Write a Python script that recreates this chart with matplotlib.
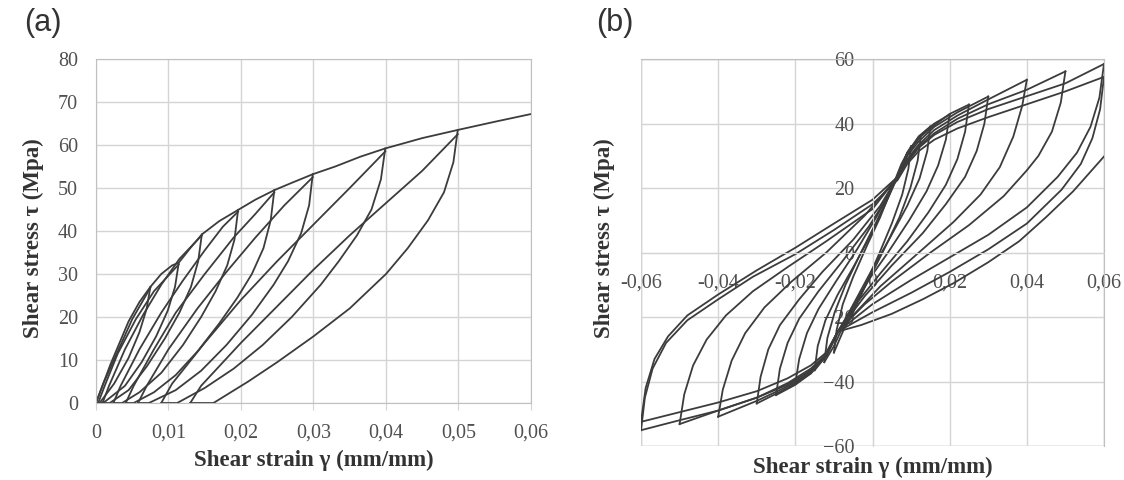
import matplotlib.pyplot as plt
from matplotlib.patches import Rectangle

# ---------------- panel (a): monotonic envelope + unload/reload loops ----------------
a_env_x = [0, 0.001, 0.002, 0.003, 0.0045, 0.006, 0.0075, 0.009, 0.0105, 0.0114, 0.013, 0.0146,
           0.017, 0.0196, 0.022, 0.0246, 0.027, 0.0299, 0.033, 0.0365, 0.0399, 0.045, 0.0499, 0.055, 0.06]
a_env_y = [0, 4.5, 9, 13, 19, 23.5, 27, 30, 32, 32.6, 36, 39.2,
           42.3, 44.9, 47.3, 49.5, 51.2, 53.2, 55, 57.3, 59.2, 61.6, 63.5, 65.4, 67.2]

# reloading branches (residual strain -> peak)
a_up_x = [
    [0, 0.001, 0.003, 0.005, 0.0075],
    [0.0003, 0.0012, 0.003, 0.0055, 0.008, 0.0114],
    [0.0009, 0.0018, 0.004, 0.0065, 0.009, 0.0115, 0.0146],
    [0.0024, 0.0034, 0.006, 0.009, 0.012, 0.015, 0.0175, 0.0196],
    [0.0041, 0.0052, 0.008, 0.011, 0.015, 0.019, 0.022, 0.0246],
    [0.0058, 0.007, 0.01, 0.014, 0.018, 0.022, 0.026, 0.0299],
    [0.009, 0.0105, 0.015, 0.02, 0.025, 0.03, 0.035, 0.0399],
    [0.013, 0.0145, 0.02, 0.025, 0.03, 0.035, 0.04, 0.045, 0.0499],
]
a_up_y = [
    [0, 4.5, 12, 19.5, 26.8],
    [0, 4, 11.5, 19.5, 26, 32.2],
    [0, 4, 12.5, 20.5, 27.5, 33.5, 39],
    [0, 4, 12.5, 21, 28.5, 35.5, 41, 44.5],
    [0, 4, 12.5, 21, 30, 38.5, 44, 49],
    [0, 4, 12.5, 22, 30.5, 38.5, 46, 52.5],
    [0, 4.5, 14, 24, 33, 41.5, 50, 58.5],
    [0, 4, 14, 22.5, 31, 39, 46.5, 54, 62.5],
]

# unloading branches (peak -> zero stress), then flat back to reload start
a_down_x = [
    [0.0075, 0.007, 0.006, 0.0045, 0.0025, 0.0005, 0],
    [0.0114, 0.0109, 0.0099, 0.0083, 0.0063, 0.004, 0.001, 0.0003],
    [0.0146, 0.0141, 0.0131, 0.0115, 0.0095, 0.007, 0.0045, 0.0019, 0.0009],
    [0.0196, 0.0191, 0.0181, 0.0165, 0.0145, 0.012, 0.009, 0.006, 0.0036, 0.0024],
    [0.0246, 0.0241, 0.0231, 0.0215, 0.0195, 0.017, 0.014, 0.011, 0.008, 0.0052, 0.0041],
    [0.0299, 0.0294, 0.0283, 0.0265, 0.0245, 0.0215, 0.018, 0.0145, 0.011, 0.0073, 0.0058],
    [0.0399, 0.0393, 0.038, 0.036, 0.0335, 0.031, 0.027, 0.023, 0.019, 0.015, 0.0112, 0.009],
    [0.0499, 0.0493, 0.048, 0.0458, 0.043, 0.04, 0.035, 0.03, 0.025, 0.021, 0.0162, 0.013],
]
a_down_y = [
    [27, 22, 16.5, 10.5, 4.5, 0, 0],
    [32.4, 27, 21.5, 15.5, 9.5, 4, 0, 0],
    [39.2, 33, 27, 21, 15, 8.5, 3, 0, 0],
    [44.9, 38, 32, 26, 20, 13.5, 7, 2.5, 0, 0],
    [49.5, 42.5, 36, 30, 24.5, 18.5, 12, 6.5, 2.5, 0, 0],
    [53.2, 46, 39.5, 33, 27.5, 20.5, 13.5, 7.5, 3, 0, 0],
    [59.2, 52, 45, 39, 33, 27.5, 20, 13.5, 8, 3.5, 0, 0],
    [63.5, 56, 49, 42.5, 36, 30, 22, 15.5, 9.5, 5, 0, 0],
]

a_xticks = [0, 0.01, 0.02, 0.03, 0.04, 0.05, 0.06]
a_xlabels = ["0", "0,01", "0,02", "0,03", "0,04", "0,05", "0,06"]
a_yticks = [0, 10, 20, 30, 40, 50, 60, 70, 80]

# ---------------- panel (b): cyclic hysteresis loops ----------------
# loading branches: negative peak -> upper pinch -> positive peak
b_up_x = [
    [-0.06, -0.0588, -0.0565, -0.053, -0.048, -0.04, -0.03, -0.02, -0.01, 0, 0.0065, 0.009, 0.012, 0.016, 0.022, 0.03, 0.04, 0.05, 0.06],
    [-0.06, -0.059, -0.057, -0.0535, -0.048, -0.04, -0.031, -0.02, -0.01, 0, 0.0065, 0.009, 0.012, 0.016, 0.022, 0.03, 0.04, 0.05, 0.06],
    [-0.05, -0.0488, -0.0465, -0.043, -0.038, -0.031, -0.022, -0.012, 0, 0.0065, 0.009, 0.012, 0.016, 0.022, 0.03, 0.04, 0.05],
    [-0.04, -0.0388, -0.0365, -0.033, -0.028, -0.021, -0.012, -0.002, 0.0065, 0.009, 0.012, 0.016, 0.022, 0.03, 0.04],
    [-0.03, -0.029, -0.027, -0.024, -0.019, -0.013, -0.005, 0.002, 0.0065, 0.009, 0.012, 0.016, 0.022, 0.03],
    [-0.025, -0.024, -0.022, -0.019, -0.014, -0.008, -0.001, 0.0035, 0.0065, 0.009, 0.012, 0.016, 0.02, 0.025],
    [-0.02, -0.019, -0.017, -0.014, -0.0095, -0.004, 0.001, 0.0045, 0.0065, 0.009, 0.012, 0.016, 0.02],
    [-0.015, -0.0142, -0.0122, -0.009, -0.0045, 0, 0.0035, 0.0065, 0.009, 0.012, 0.015],
    [-0.0125, -0.0117, -0.0098, -0.007, -0.003, 0.001, 0.0045, 0.0065, 0.009, 0.0125],
    [-0.01, -0.0093, -0.0077, -0.005, -0.0015, 0.002, 0.005, 0.0075, 0.01],
]
b_up_y = [
    [-52.5, -42, -33, -26, -19.5, -13, -5.5, 1.5, 9, 16.4, 23.5, 28, 32.5, 36.5, 40.5, 44.5, 48.5, 52.5, 58.5],
    [-55.1, -45, -36, -28, -21, -14.5, -7.5, -0.5, 7, 15, 22.5, 27.5, 31.5, 35, 38.5, 42, 46, 50, 54.5],
    [-53.2, -44, -35, -27, -19.5, -12, -4.5, 3.5, 13.5, 23.5, 28.5, 33, 37, 41.5, 46, 50.5, 56.2],
    [-50.9, -42.5, -33.5, -25, -17, -9, 0, 11.5, 23.5, 29, 33.5, 38, 42.5, 47.5, 53.6],
    [-46.8, -38.5, -30, -22.5, -14.5, -6, 4, 14.5, 23.5, 30, 34.5, 39, 43.5, 48.4],
    [-44.2, -36, -28, -20.5, -12, -3, 8, 16.5, 23.5, 30.5, 35.5, 39.5, 43, 45.9],
    [-40.6, -33, -25, -17.5, -9, 1, 11, 19, 23.5, 30.5, 36, 40, 42.8],
    [-36.5, -29, -21, -13, -3.5, 6.5, 15.5, 23.5, 31, 36, 39.1],
    [-34, -26.5, -18.5, -10, 0, 9.5, 18.5, 24, 31, 36],
    [-31, -24, -16, -7.5, 2, 11, 20, 27.5, 33],
]
# unloading branches: positive peak -> lower pinch -> negative peak
b_down_x = [
    [0.06, 0.0588, 0.0565, 0.053, 0.048, 0.04, 0.03, 0.02, 0.01, 0, -0.009, -0.012, -0.016, -0.022, -0.03, -0.04, -0.05, -0.06],
    [0.06, 0.059, 0.057, 0.054, 0.049, 0.04, 0.03, 0.02, 0.01, 0, -0.009, -0.012, -0.016, -0.022, -0.03, -0.04, -0.05, -0.06],
    [0.05, 0.0488, 0.0465, 0.043, 0.04, 0.034, 0.025, 0.015, 0.005, -0.002, -0.009, -0.012, -0.016, -0.022, -0.03, -0.04, -0.05],
    [0.04, 0.0388, 0.0365, 0.033, 0.028, 0.021, 0.012, 0.002, -0.009, -0.012, -0.016, -0.022, -0.03, -0.04],
    [0.03, 0.029, 0.027, 0.024, 0.019, 0.013, 0.005, -0.002, -0.009, -0.012, -0.016, -0.022, -0.03],
    [0.025, 0.024, 0.022, 0.019, 0.0145, 0.009, 0.002, -0.004, -0.009, -0.012, -0.016, -0.02, -0.025],
    [0.02, 0.019, 0.017, 0.014, 0.0095, 0.004, -0.001, -0.005, -0.009, -0.012, -0.016, -0.02],
    [0.015, 0.0142, 0.0122, 0.009, 0.0045, 0, -0.0045, -0.009, -0.012, -0.015],
    [0.0125, 0.0117, 0.0098, 0.007, 0.003, -0.001, -0.0045, -0.0075, -0.01, -0.0125],
    [0.01, 0.0093, 0.0077, 0.005, 0.0015, -0.002, -0.005, -0.0075, -0.01],
]
b_down_y = [
    [58.5, 48, 39, 31, 23.5, 14, 5.5, -1.5, -8.5, -16, -24.5, -31, -35, -39, -43, -46.5, -49.5, -52.5],
    [54.5, 44.5, 35.5, 27.5, 19.5, 9, 1, -6, -12.5, -18.5, -24.5, -31.5, -36.5, -41, -45, -49, -52, -55.1],
    [56.2, 46.5, 37.5, 30, 25.5, 17.5, 8.5, 0, -9, -16, -24.5, -31.5, -36, -40.5, -45, -49, -53.2],
    [53.6, 45.5, 36, 26.5, 18, 9.5, 0, -10.5, -24.5, -32, -37, -41.5, -46, -50.9],
    [48.4, 40, 31.5, 23.5, 15, 6, -4, -13.5, -24.5, -32, -37.5, -42, -46.8],
    [45.9, 37.5, 29, 21, 12.5, 3.5, -6.5, -15.5, -24.5, -32, -37.5, -41, -44.2],
    [42.8, 35, 27, 19, 10, 0, -8.5, -16.5, -24.5, -32, -37, -40.6],
    [39.1, 31.5, 23, 14.5, 4.5, -5, -15, -25, -32, -36.5],
    [36, 28.5, 20, 11, 1, -8.5, -16.5, -22.5, -29, -34],
    [33, 26, 18, 9, -1, -10.5, -18.5, -24, -31],
]
# last (unfinished) branch
b_last_x = [-0.009, -0.003, 0.005, 0.013, 0.021, 0.03, 0.038, 0.045, 0.052, 0.06]
b_last_y = [-24.5, -22.5, -19, -14.5, -9.5, -3, 3.5, 11, 19, 29.8]

b_xticks = [-0.06, -0.04, -0.02, 0, 0.02, 0.04, 0.06]
b_xlabels = ["-0,06", "-0,04", "-0,02", "0", "0,02", "0,04", "0,06"]
b_yticks = [-60, -40, -20, 0, 20, 40, 60]

line_c = "#3c3c3c"
grid_c = "#d4d4d4"
tick_c = "#505050"
lab_c = "#333333"
serif = ["Liberation Serif", "DejaVu Serif"]
sans = ["Liberation Sans", "DejaVu Sans"]

fig = plt.figure(figsize=(11.24, 4.8), dpi=100)

# ---- (a)
ax1 = fig.add_axes([0.0854, 0.1604, 0.387, 0.7167])
ax1.plot(a_env_x, a_env_y, color=line_c, lw=1.3)
for xs, ys in zip(a_up_x, a_up_y):
    ax1.plot(xs, ys, color=line_c, lw=1.3)
for xs, ys in zip(a_down_x, a_down_y):
    ax1.plot(xs, ys, color=line_c, lw=1.3)
ax1.set_xlim(0, 0.06)
ax1.set_ylim(0, 80)
ax1.set_xticks(a_xticks)
ax1.set_xticklabels(a_xlabels)
ax1.set_yticks(a_yticks)
ax1.grid(True, color=grid_c, lw=1.0)
ax1.set_axisbelow(True)
for s in ax1.spines.values():
    s.set_color("#c0c0c0")
ax1.tick_params(axis="x", length=5, color=grid_c, pad=10, labelsize=14.5, labelcolor=tick_c)
ax1.tick_params(axis="y", length=0, pad=13, labelsize=14.5, labelcolor=tick_c)
for lab in ax1.get_xticklabels() + ax1.get_yticklabels():
    lab.set_family(serif)
ax1.set_xlabel("Shear strain γ (mm/mm)", family=serif, fontsize=16.5, fontweight="bold", color=lab_c, va="center")
ax1.xaxis.set_label_coords(0.5, -0.166)
ax1.set_ylabel("Shear stress τ (Mpa)", family=serif, fontsize=16.5, fontweight="bold", color=lab_c, va="center")
ax1.yaxis.set_label_coords(-0.143, 0.48)
fig.text(0.038, 0.952, "(a)", fontsize=22, color=lab_c, ha="center", va="center", family=sans)

# ---- (b)
ax2 = fig.add_axes([0.5703, 0.0708, 0.4119, 0.806])
for xs, ys in zip(b_up_x, b_up_y):
    ax2.plot(xs, ys, color=line_c, lw=1.3)
for xs, ys in zip(b_down_x, b_down_y):
    ax2.plot(xs, ys, color=line_c, lw=1.3)
ax2.plot(b_last_x, b_last_y, color=line_c, lw=1.3)
ax2.set_xlim(-0.06, 0.06)
ax2.set_ylim(-60, 60)
ax2.set_xticks(b_xticks)
ax2.set_xticklabels(b_xlabels)
ax2.set_yticks(b_yticks)
ax2.grid(True, color=grid_c, lw=1.0)
ax2.set_axisbelow(True)
ax2.spines["left"].set_position(("data", 0))
ax2.spines["bottom"].set_position(("data", 0))
ax2.spines["left"].set_color(grid_c)
ax2.spines["bottom"].set_color(grid_c)
ax2.spines["right"].set_color("#c0c0c0")
ax2.spines["top"].set_color("#c0c0c0")
ax2.add_patch(Rectangle((0, 0), 1, 1, transform=ax2.transAxes, fill=False, ec="#c0c0c0", lw=1.0, zorder=0.5))
ax2.tick_params(axis="x", length=0, pad=15, labelsize=14.5, labelcolor=tick_c)
ax2.tick_params(axis="y", length=0, pad=13, labelsize=14.5, labelcolor=tick_c)
for lab in ax2.get_xticklabels() + ax2.get_yticklabels():
    lab.set_family(serif)
ax2.set_xlabel("Shear strain γ (mm/mm)", family=serif, fontsize=16.5, fontweight="bold", color=lab_c, va="center")
ax2.xaxis.set_label_coords(0.5, -0.054)
ax2.set_ylabel("Shear stress τ (Mpa)", family=serif, fontsize=16.5, fontweight="bold", color=lab_c, va="center")
ax2.yaxis.set_label_coords(-0.08, 0.537)
fig.text(0.547, 0.952, "(b)", fontsize=22, color=lab_c, ha="center", va="center", family=sans)

fig.savefig("out.png", dpi=100)
